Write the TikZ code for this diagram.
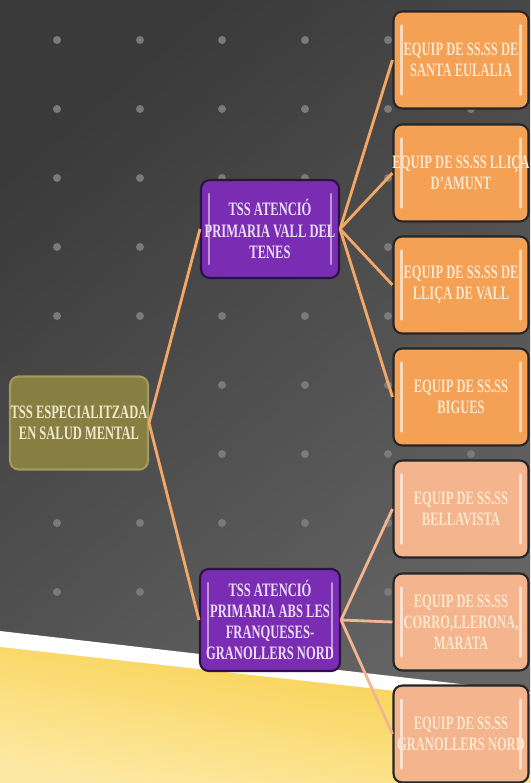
\documentclass[tikz,border=0pt]{standalone}
\usepackage{fontspec}
\setmainfont{Liberation Serif}[FakeStretch=0.66]
\tikzset{node distance=2cm, auto}
\usetikzlibrary{positioning, shadings}

\definecolor{bgdark}{HTML}{3A3A3A}
\definecolor{bglight}{HTML}{666666}
\definecolor{dotgray}{HTML}{7A7A7A}
\definecolor{rootfill}{HTML}{877F42}
\definecolor{rootedge}{HTML}{A29B5E}
\definecolor{roottext}{HTML}{EDE8CC}
\definecolor{tssfill}{HTML}{7A2DB3}
\definecolor{tssedge}{HTML}{2B1242}
\definecolor{tsstext}{HTML}{EADCF8}
\definecolor{eqfill}{HTML}{F4A055}
\definecolor{eqlight}{HTML}{F3B48E}
\definecolor{eqtext}{HTML}{FCE6CC}
\definecolor{linkorange}{HTML}{F4A867}
\definecolor{linksalmon}{HTML}{F2B592}
\definecolor{goldtop}{HTML}{F8CE45}
\definecolor{goldlow}{HTML}{FDE9A4}

\begin{document}
\begin{tikzpicture}[x=0.02cm,y=-0.02cm]
\tikzset{
  box/.style={rounded corners=5pt, align=center, inner sep=0pt, line width=1.2pt,
    font=\bfseries\fontsize{10.8}{12}\selectfont},
  gloss/.style={path picture={
    \draw[white,opacity=#1,line width=1.4pt,line cap=round]
      ([xshift=4.5pt,yshift=-8pt]path picture bounding box.north west)
      -- ([xshift=4.5pt,yshift=8pt]path picture bounding box.south west);
    \draw[white,opacity=#1,line width=1.4pt,line cap=round]
      ([xshift=-4.5pt,yshift=-8pt]path picture bounding box.north east)
      -- ([xshift=-4.5pt,yshift=8pt]path picture bounding box.south east);}},
  rootbox/.style={box, fill=rootfill, draw=rootedge, text=roottext,
    minimum width=2.76cm, minimum height=1.86cm},
  tssbox/.style={box, gloss=0.5, fill=tssfill, draw=tssedge, text=tsstext,
    minimum width=2.76cm, minimum height=1.96cm},
  equipbox/.style={box, gloss=0.6, fill=eqfill, draw=black!85, text=eqtext,
    minimum width=2.7cm, minimum height=1.94cm},
  equiplight/.style={equipbox, fill=eqlight},
  link/.style={line width=1.6pt, draw=linkorange},
  linklight/.style={line width=1.6pt, draw=linksalmon}
}

\useasboundingbox (0,0) rectangle (530,783);
\clip (0,0) rectangle (530,783);

\shade[top color=bgdark, bottom color=bglight, shading angle=40] (0,0) rectangle (530,783);
\foreach \x in {57,140,222,305,388,471}
  \foreach \y in {40,109,178,247,316,385,454,523,592}
    \fill[dotgray] (\x,\y) circle [radius=0.08cm];

\fill[white] (0,631) -- (530,692) -- (530,783) -- (0,783) -- cycle;
\shade[top color=goldtop, bottom color=goldlow, shading angle=-10]
  (0,647) -- (530,706) -- (530,783) -- (0,783) -- cycle;

\node[rootbox] (root) at (79,423) {TSS ESPECIALITZADA\\EN SALUD MENTAL};

\node[tssbox] (tss1) at (270,229) {TSS ATENCIÓ\\PRIMARIA VALL DEL\\TENES};
\node[tssbox, minimum width=2.8cm, minimum height=2.04cm] (tss2) at (270,620)
  {TSS ATENCIÓ\\PRIMARIA ABS LES\\FRANQUESES-\\GRANOLLERS NORD};

\node[equipbox] (eq1) at (461,60) {EQUIP DE SS.SS DE\\SANTA EULALIA};
\node[equipbox] (eq2) at (461,173) {\makebox[0pt]{EQUIP DE SS.SS LLIÇA}\\D'AMUNT};
\node[equipbox] (eq3) at (461,285) {EQUIP DE SS.SS DE\\LLIÇA DE VALL};
\node[equipbox] (eq4) at (461,397) {EQUIP DE SS.SS\\BIGUES};
\node[equiplight] (eq5) at (461,509) {EQUIP DE SS.SS\\BELLAVISTA};
\node[equiplight] (eq6) at (461,622) {EQUIP DE SS.SS\\CORRO,LLERONA,\\MARATA};
\node[equiplight] (eq7) at (461,734) {EQUIP DE SS.SS\\GRANOLLERS NORD};

\draw[link] (root.east) -- (tss1.west);
\draw[link] (root.east) -- (tss2.west);
\foreach \n in {eq1,eq2,eq3,eq4}
  \draw[link] (tss1.east) -- (\n.west);
\foreach \n in {eq5,eq6,eq7}
  \draw[linklight] (tss2.east) -- (\n.west);
\end{tikzpicture}
\end{document}
